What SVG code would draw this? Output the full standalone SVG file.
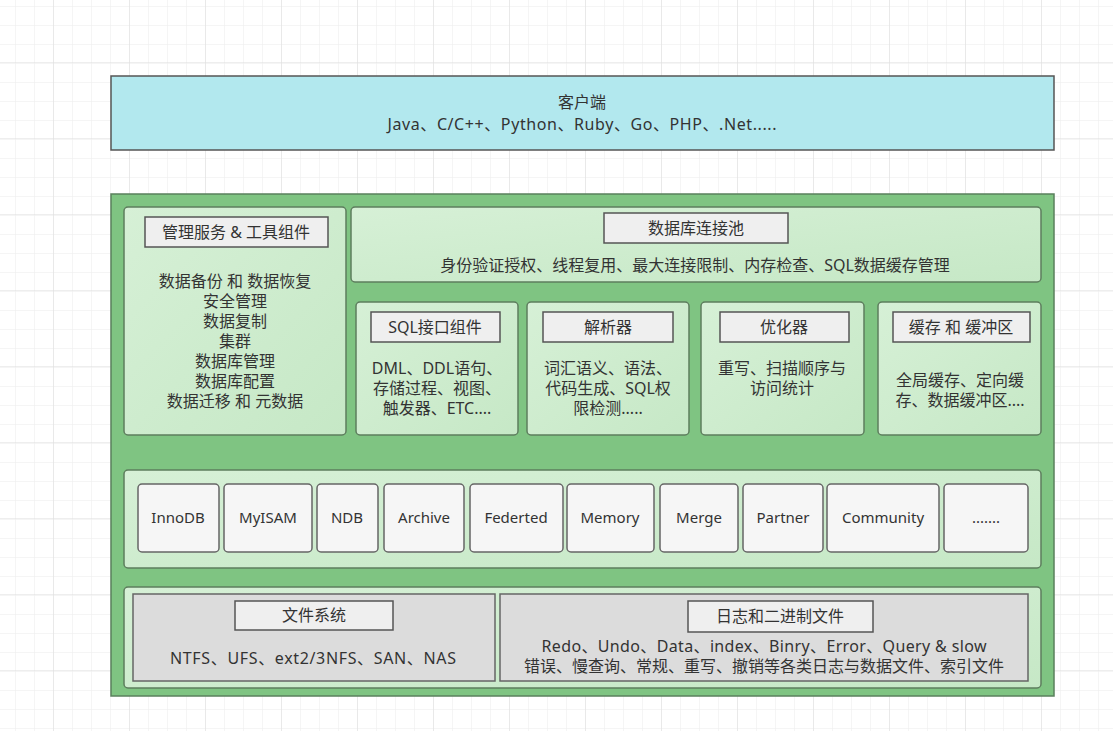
<svg xmlns="http://www.w3.org/2000/svg" width="1113" height="731" viewBox="0 0 1113 731">
<defs>
<pattern id="minor" width="19" height="19" patternUnits="userSpaceOnUse" x="15" y="6">
<path d="M0 0H19M0 0V19" fill="none" stroke="#ececec" stroke-width="1"/>
</pattern>
<pattern id="major" width="76" height="76" patternUnits="userSpaceOnUse" x="53" y="62">
<path d="M0 0H76M0 0V76" fill="none" stroke="#dedede" stroke-width="1"/>
</pattern>
<linearGradient id="lg" x1="0" y1="0" x2="1" y2="1">
<stop offset="0" stop-color="#d6f0d6"/>
<stop offset="1" stop-color="#c6e8c6"/>
</linearGradient>
<style>
text{font-family:"Noto Sans","Noto Sans CJK SC",sans-serif;font-size:16px;fill:#333;text-anchor:middle}
text.e{font-size:15px}
.panel{fill:url(#lg);stroke:#5d7d5d;stroke-width:1.5}
.title{fill:#efefef;stroke:#555;stroke-width:1.5}
.eng{fill:#f6f6f6;stroke:#666;stroke-width:1.5}
.gray{fill:#dcdcdc;stroke:#666;stroke-width:1.5}
</style>
</defs>
<rect width="1113" height="731" fill="#fff"/>
<rect width="1113" height="731" fill="url(#minor)"/>
<rect width="1113" height="731" fill="url(#major)"/>

<g id="client">
<rect x="111" y="76" width="943" height="74" fill="#b2e8ee" stroke="#555" stroke-width="1.5"/>
<text x="582" y="108">客户端</text>
<text x="582" y="130" textLength="389" lengthAdjust="spacing">Java、C/C++、Python、Ruby、Go、PHP、.Net.....</text>
</g>

<g id="server">
<rect x="111" y="194" width="943" height="502" fill="#7fc482" stroke="#5a805c" stroke-width="1.5"/>
</g>

<g id="management">
<rect class="panel" x="124" y="207" width="222" height="228" rx="4"/>
<rect class="title" x="145" y="217" width="183" height="30"/>
<text x="236" y="238">管理服务 &amp; 工具组件</text>
<text x="235" y="287">数据备份 和 数据恢复</text>
<text x="235" y="307">安全管理</text>
<text x="235" y="327">数据复制</text>
<text x="235" y="347">集群</text>
<text x="235" y="367">数据库管理</text>
<text x="235" y="387">数据库配置</text>
<text x="235" y="407">数据迁移 和 元数据</text>
</g>

<g id="pool">
<rect class="panel" x="351" y="207" width="690" height="75" rx="4"/>
<rect class="title" x="604" y="213" width="184" height="30"/>
<text x="696" y="234">数据库连接池</text>
<text x="695" y="271">身份验证授权、线程复用、最大连接限制、内存检查、SQL数据缓存管理</text>
</g>

<g id="sql">
<rect class="panel" x="356" y="302" width="162" height="133" rx="4"/>
<rect class="title" x="371" y="312" width="129" height="30"/>
<text x="435" y="333">SQL接口组件</text>
<text x="437" y="374">DML、DDL语句、</text>
<text x="437" y="394">存储过程、视图、</text>
<text x="437" y="414">触发器、ETC....</text>
</g>

<g id="parser">
<rect class="panel" x="527" y="302" width="162" height="133" rx="4"/>
<rect class="title" x="543" y="312" width="130" height="30"/>
<text x="608" y="333">解析器</text>
<text x="608" y="374">词汇语义、语法、</text>
<text x="608" y="394">代码生成、SQL权</text>
<text x="608" y="414">限检测.....</text>
</g>

<g id="optimizer">
<rect class="panel" x="701" y="302" width="163" height="133" rx="4"/>
<rect class="title" x="720" y="312" width="129" height="30"/>
<text x="784" y="333">优化器</text>
<text x="782" y="374">重写、扫描顺序与</text>
<text x="782" y="394">访问统计</text>
</g>

<g id="cache">
<rect class="panel" x="878" y="302" width="163" height="133" rx="4"/>
<rect class="title" x="893" y="312" width="137" height="30"/>
<text x="961" y="333">缓存 和 缓冲区</text>
<text x="960" y="386">全局缓存、定向缓</text>
<text x="960" y="406">存、数据缓冲区....</text>
</g>

<g id="engines">
<rect class="panel" x="124" y="470" width="917" height="98" rx="4"/>
<rect class="eng" x="138" y="484" width="81" height="68" rx="4"/>
<text class="e" x="178" y="523">InnoDB</text>
<rect class="eng" x="224" y="484" width="88" height="68" rx="4"/>
<text class="e" x="268" y="523">MyISAM</text>
<rect class="eng" x="317" y="484" width="61" height="68" rx="4"/>
<text class="e" x="347" y="523">NDB</text>
<rect class="eng" x="384" y="484" width="80" height="68" rx="4"/>
<text class="e" x="424" y="523">Archive</text>
<rect class="eng" x="470" y="484" width="93" height="68" rx="4"/>
<text class="e" x="516" y="523">Federted</text>
<rect class="eng" x="567" y="484" width="87" height="68" rx="4"/>
<text class="e" x="610" y="523">Memory</text>
<rect class="eng" x="660" y="484" width="78" height="68" rx="4"/>
<text class="e" x="699" y="523">Merge</text>
<rect class="eng" x="743" y="484" width="80" height="68" rx="4"/>
<text class="e" x="783" y="523">Partner</text>
<rect class="eng" x="827" y="484" width="112" height="68" rx="4"/>
<text class="e" x="883" y="523">Community</text>
<rect class="eng" x="944" y="484" width="84" height="68" rx="4"/>
<text class="e" x="986" y="523">.......</text>
</g>

<g id="storage">
<rect class="panel" x="124" y="587" width="917" height="101" rx="4"/>
</g>

<g id="filesystem">
<rect class="gray" x="133" y="594" width="362" height="87"/>
<rect class="title" x="235" y="601" width="158" height="29"/>
<text x="314" y="621">文件系统</text>
<text x="313" y="664" textLength="286" lengthAdjust="spacing">NTFS、UFS、ext2/3NFS、SAN、NAS</text>
</g>

<g id="logs">
<rect class="gray" x="500" y="594" width="528" height="87"/>
<rect class="title" x="688" y="601" width="185" height="31"/>
<text x="780" y="622">日志和二进制文件</text>
<text x="764" y="652" textLength="445" lengthAdjust="spacing">Redo、Undo、Data、index、Binry、Error、Query &amp; slow</text>
<text x="764" y="672">错误、慢查询、常规、重写、撤销等各类日志与数据文件、索引文件</text>
</g>

<g id="connectors"></g>
</svg>
